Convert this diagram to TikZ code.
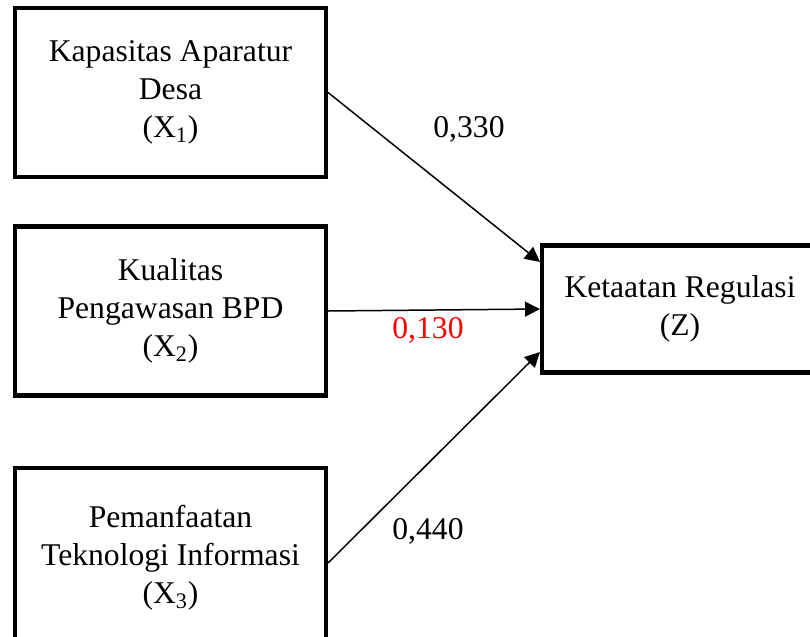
\documentclass[tikz,border=0pt]{standalone}
\usepackage{fontspec}
\setmainfont{Liberation Serif}
\usepackage{tikz}
\usetikzlibrary{arrows.meta, positioning}
\usepackage{xcolor}
\definecolor{coefred}{RGB}{255, 0, 0}

\begin{document}
\begin{tikzpicture}[
    varbox/.style={draw, line width=2.3pt, align=center,
                   minimum width=6.22cm, minimum height=3.38cm,
                   font=\fontsize{18}{21.6}\selectfont},
    coef/.style={font=\fontsize{18}{21.6}\selectfont},
    arrow/.style={-{Triangle[length=8.5pt, width=8.5pt]}, line width=0.85pt},
  ]
    \useasboundingbox (0,0) rectangle (16.2,-12.72);
    \clip (0,0) rectangle (16.2,-12.72);

    % Independent variables
    \node[varbox] (x1) at (3.41,-1.85)
      {Kapasitas Aparatur\\Desa\\(X\textsubscript{1})};
    \node[varbox] (x2) at (3.41,-6.22)
      {Kualitas\\Pengawasan BPD\\(X\textsubscript{2})};
    \node[varbox, minimum height=3.6cm] (x3) at (3.41,-11.16)
      {Pemanfaatan\\Teknologi Informasi\\(X\textsubscript{3})};

    % Dependent variable
    \node[varbox, minimum width=5.52cm, minimum height=2.54cm] (z) at (13.6,-6.18)
      {Ketaatan Regulasi\\(Z)};

    % Paths
    \draw[arrow] (x1.east) -- ([yshift=0.94cm]z.west);
    \draw[arrow] (x2.east) -- (z.west);
    \draw[arrow] ([yshift=-0.1cm]x3.east) -- ([yshift=-0.86cm]z.west);

    % Coefficients
    \node[coef] (c1) at (9.38,-2.58) {0,330};
    \node[coef, text=coefred] (c2) at (8.56,-6.6) {0,130};
    \node[coef] (c3) at (8.56,-10.62) {0,440};
  \end{tikzpicture}
\end{document}
